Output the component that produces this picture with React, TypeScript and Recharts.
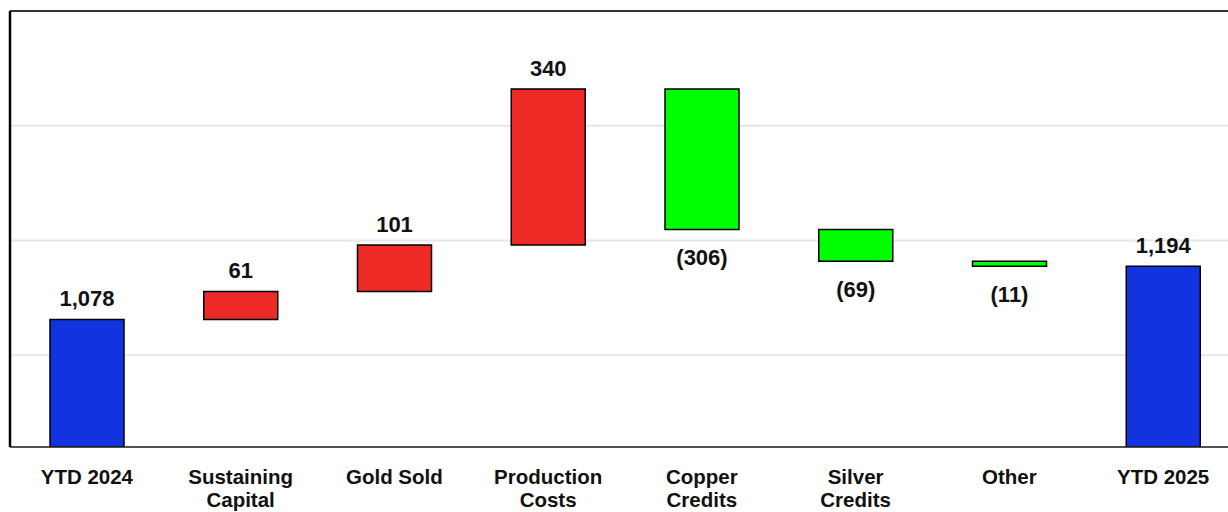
import { BarChart, Bar, XAxis, YAxis, CartesianGrid, Cell, LabelList, ReferenceLine } from 'recharts';

const categories = [
  'YTD 2024',
  'Sustaining\nCapital',
  'Gold Sold',
  'Production\nCosts',
  'Copper\nCredits',
  'Silver\nCredits',
  'Other',
  'YTD 2025',
];
const steps = [1078, 61, 101, 340, -306, -69, -11, 1194];
const stepKinds = ['total', 'up', 'up', 'up', 'down', 'down', 'down', 'total'];
const yDomain = [800, 1750];
const yTicks = [800, 1000, 1250, 1500, 1750];

const kindColors: Record<string, string> = {
  total: '#1133E0',
  up: '#EE2A27',
  down: '#00FF00',
};

const FONT = '"Liberation Sans", Arial, Helvetica, sans-serif';

// running totals -> floating [low, high] ranges for the waterfall
let running = 0;
const rows = categories.map((name, i) => {
  const kind = stepKinds[i];
  let range: [number, number];
  if (kind === 'total') {
    running = steps[i];
    range = [yDomain[0], steps[i]];
  } else {
    const prev = running;
    running += steps[i];
    range = [Math.min(prev, running), Math.max(prev, running)];
  }
  return { name, range, step: steps[i], kind };
});

const fmt = (v: number, kind: string) =>
  kind === 'down' ? `(${Math.abs(v).toLocaleString('en-US')})` : v.toLocaleString('en-US');

const CategoryTick = ({ x, y, payload }: any) => {
  const lines = String(payload.value).split('\n');
  return (
    <text x={x} y={y} textAnchor="middle" fontSize={20.5} fontWeight={700} fill="#111" fontFamily={FONT}>
      {lines.map((line, i) => (
        <tspan key={i} x={x} dy={i === 0 ? 37 : 23}>
          {line}
        </tspan>
      ))}
    </text>
  );
};

// y values are not labelled, only gridlines
const NoTick = () => <g />;

const StepLabel = (props: any) => {
  const { x, y, width, height, index } = props;
  const row = rows[index];
  const cx = x + width / 2;
  const ty = row.kind === 'down' ? y + height + 36 : y - 13;
  return (
    <text x={cx} y={ty} textAnchor="middle" fontSize={22} fontWeight={700} fill="#111" fontFamily={FONT}>
      {fmt(row.step, row.kind)}
    </text>
  );
};

export default function App() {
  return (
    <div style={{ position: 'absolute', left: 0, top: 0, width: 1228, height: 512, overflow: 'hidden', background: '#fff' }}>
      <BarChart
        width={1240}
        height={512}
        data={rows}
        margin={{ top: 11, right: 0, left: 0, bottom: 0 }}
        barSize={74}
      >
        <CartesianGrid vertical={false} stroke="#e6e6e6" strokeWidth={2} />
        <XAxis
          dataKey="name"
          height={65}
          tick={<CategoryTick />}
          tickLine={false}
          tickSize={0}
          tickMargin={0}
          interval={0}
          axisLine={{ stroke: '#222', strokeWidth: 1.5 }}
        />
        <YAxis
          width={10}
          domain={yDomain}
          ticks={yTicks}
          tick={<NoTick />}
          tickLine={false}
          allowDataOverflow
          axisLine={{ stroke: '#000', strokeWidth: 2.5 }}
        />
        <ReferenceLine y={yDomain[1]} stroke="#333" strokeWidth={2} />
        <Bar dataKey="range" stroke="#000" strokeWidth={1.5} isAnimationActive={false}>
          {rows.map((r, i) => (
            <Cell key={i} fill={kindColors[r.kind]} />
          ))}
          <LabelList dataKey="range" content={<StepLabel />} />
        </Bar>
      </BarChart>
    </div>
  );
}
